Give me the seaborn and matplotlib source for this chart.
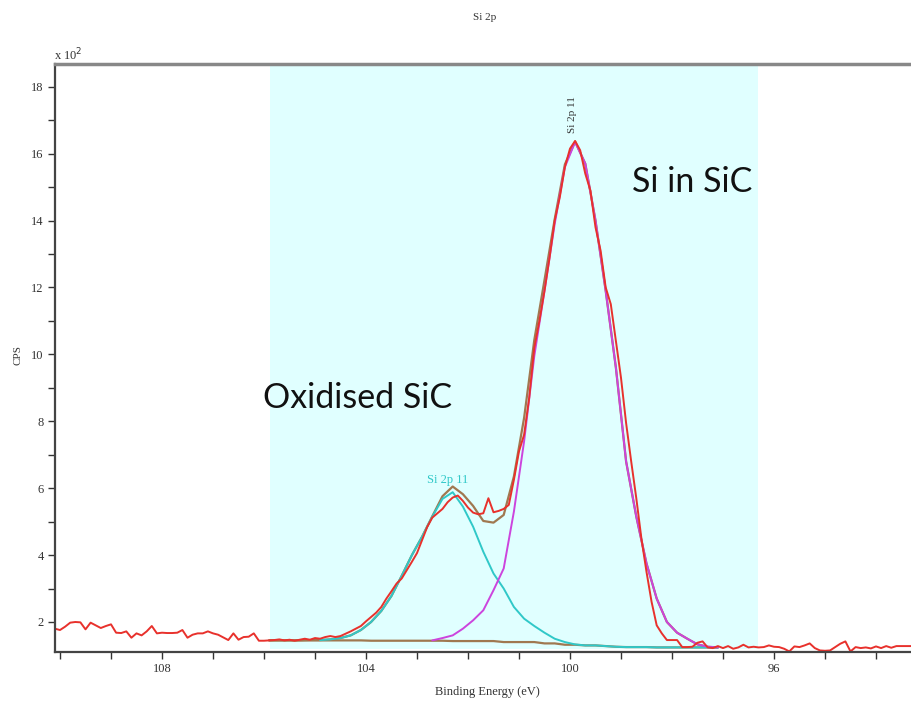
import numpy as np
import pandas as pd
import matplotlib
matplotlib.use("Agg")
import matplotlib.pyplot as plt
import seaborn as sns
from matplotlib.ticker import FixedLocator, MultipleLocator

sns.set_style("white")
plt.rcParams['font.family'] = ['Liberation Serif', 'DejaVu Serif']

# Measured Si 2p spectrum, counts in units of 100 CPS, 0.1 eV steps from 110.1 eV
red_counts = [
    1.80, 1.76, 1.86, 1.98, 2.00, 1.99, 1.78, 1.98, 1.90, 1.82,
    1.88, 1.93, 1.68, 1.67, 1.72, 1.53, 1.66, 1.60, 1.72, 1.88,
    1.66, 1.68, 1.67, 1.67, 1.68, 1.76, 1.53, 1.62, 1.66, 1.66,
    1.72, 1.66, 1.62, 1.54, 1.46, 1.66, 1.47, 1.55, 1.56, 1.66,
    1.44, 1.44, 1.45, 1.46, 1.48, 1.45, 1.47, 1.44, 1.47, 1.50,
    1.47, 1.52, 1.50, 1.55, 1.58, 1.55, 1.58, 1.65, 1.72, 1.80,
    1.88, 2.02, 2.15, 2.28, 2.45, 2.70, 2.92, 3.15, 3.30, 3.55,
    3.80, 4.06, 4.45, 4.84, 5.12, 5.25, 5.38, 5.58, 5.72, 5.78,
    5.62, 5.42, 5.27, 5.22, 5.25, 5.70, 5.28, 5.32, 5.38, 5.50,
    6.25, 7.10, 7.60, 8.70, 10.20, 11.00, 11.90, 12.90, 14.00, 14.70,
    15.60, 16.15, 16.38, 16.10, 15.40, 14.90, 13.80, 13.10, 12.00, 11.50,
    10.40, 9.30, 7.95, 6.80, 5.70, 4.50, 3.50, 2.60, 1.90, 1.66,
    1.46, 1.46, 1.46, 1.25, 1.25, 1.26, 1.38, 1.42, 1.24, 1.22,
    1.28, 1.22, 1.28, 1.20, 1.24, 1.32, 1.24, 1.26, 1.24, 1.25,
    1.30, 1.26, 1.25, 1.20, 1.12, 1.27, 1.25, 1.30, 1.36, 1.22,
    1.15, 1.14, 1.15, 1.25, 1.35, 1.42, 1.12, 1.25, 1.22, 1.24,
    1.21, 1.27, 1.22, 1.28, 1.23, 1.28, 1.28, 1.28, 1.28,
]
red_energy = np.round(110.1 - 0.1 * np.arange(len(red_counts)), 1)

# Fit region, 0.2 eV steps from 105.9 eV to 97.1 eV
fit_energy = np.round(105.9 - 0.2 * np.arange(45), 1)
background = [
    1.45, 1.45, 1.45, 1.45, 1.45, 1.45, 1.45, 1.45, 1.45, 1.45,
    1.44, 1.44, 1.44, 1.44, 1.44, 1.44, 1.44, 1.44, 1.43, 1.43,
    1.43, 1.43, 1.43, 1.40, 1.40, 1.40, 1.40, 1.36, 1.36, 1.32,
    1.32, 1.30, 1.30, 1.28, 1.26, 1.25, 1.25, 1.25, 1.24, 1.24,
    1.24, 1.24, 1.24, 1.24, 1.24,
]
oxide_component = [
    1.45, 1.45, 1.45, 1.45, 1.46, 1.46, 1.48, 1.52, 1.60, 1.76,
    2.00, 2.33, 2.78, 3.38, 4.00, 4.55, 5.15, 5.68, 5.88, 5.45,
    4.85, 4.10, 3.45, 3.00, 2.45, 2.10, 1.88, 1.68, 1.50, 1.40,
    1.33, 1.30, 1.30, 1.28, 1.26, 1.25, 1.25, 1.25, 1.24, 1.24,
    1.24, 1.24, 1.24, 1.24, 1.24,
]
sic_component = [
    1.45, 1.45, 1.45, 1.45, 1.45, 1.45, 1.45, 1.45, 1.45, 1.45,
    1.44, 1.44, 1.44, 1.44, 1.44, 1.44, 1.45, 1.52, 1.60, 1.80,
    2.05, 2.35, 2.95, 3.60, 5.30, 7.40, 9.95, 11.90, 13.90, 15.60,
    16.35, 15.70, 14.00, 11.90, 9.60, 6.80, 5.15, 3.75, 2.70, 2.00,
    1.68, 1.50, 1.33, 1.26, 1.24,
]

fit = pd.DataFrame({
    "energy": fit_energy,
    "background": background,
    "oxide": oxide_component,
    "sic": sic_component,
})
fit["envelope"] = fit["oxide"] + fit["sic"] - fit["background"]
raw = pd.DataFrame({"energy": red_energy, "cps": red_counts})

W, H = 912, 706
fig = plt.figure(figsize=(W / 100, H / 100), dpi=100)
ax = fig.add_axes([55 / W, 1 - 652 / H, 1 - 55 / W, (652 - 64) / H])

# Shaded fitting window
ax.axvspan(105.88, 96.31, ymin=0.005, ymax=1, color='#e0ffff', lw=0, zorder=0)

kw = dict(ax=ax, sort=False, estimator=None, legend=False)
sns.lineplot(data=fit, x="energy", y="background", color='#a07850', lw=1.6, **kw)
sns.lineplot(data=fit, x="energy", y="envelope", color='#a07850', lw=1.6, **kw)
ox = fit[fit["energy"] <= 104.9]
sns.lineplot(data=ox, x="energy", y="oxide", color='#30c8c8', lw=1.4, **kw)
si = fit[fit["energy"] <= 102.7]
sns.lineplot(data=si, x="energy", y="sic", color='#cc44dd', lw=1.4, **kw)
sns.lineplot(data=raw, x="energy", y="cps", color='#e8312c', lw=1.4, **kw)

ax.set_xlim(110.098, 93.294)
ax.set_ylim(1.103, 18.68)
ax.set_xlabel("")
ax.set_ylabel("")

ax.xaxis.set_major_locator(FixedLocator([108, 104, 100, 96]))
ax.xaxis.set_minor_locator(MultipleLocator(1))
ax.yaxis.set_major_locator(FixedLocator([2, 4, 6, 8, 10, 12, 14, 16, 18]))
ax.yaxis.set_minor_locator(MultipleLocator(1))
ax.tick_params(which='both', direction='out', color='#333333', width=1,
               labelsize=9, labelcolor='#333333', bottom=True, left=True)
ax.tick_params(which='major', length=5, pad=3)
ax.tick_params(which='minor', length=5)

for side in ('left', 'bottom'):
    ax.spines[side].set_color('#444444')
    ax.spines[side].set_linewidth(1.6)
ax.spines['top'].set_color('#888888')
ax.spines['top'].set_linewidth(2.5)
ax.spines['right'].set_visible(False)

# Axis texts
fig.text(485 / W, 1 - 18 / H, "Si 2p", ha='center', va='center', fontsize=8, color='#333333')
fig.text(54 / W, 1 - 60 / H, r"x 10$^{2}$", ha='left', va='baseline', fontsize=9, color='#333333')
fig.text(18 / W, 1 - 355 / H, "CPS", ha='center', va='center', rotation=90, fontsize=8, color='#333333')
fig.text(487 / W, 1 - 692 / H, "Binding Energy (eV)", ha='center', va='center', fontsize=9, color='#333333')

# Peak labels
ax.text(102.39, 6.16, "Si 2p 11", color='#30c8c8', ha='center', va='baseline', fontsize=9)
ax.text(99.96, 16.62, "Si 2p 11", color='#333333', ha='center', va='bottom', rotation=90, fontsize=8)

# Region annotations
ax.text(104.17, 8.40, "Oxidised SiC", ha='center', va='baseline', fontsize=24.5,
        family=['Lato', 'DejaVu Sans'], color='#111111')
ax.text(97.61, 14.86, "Si in SiC", ha='center', va='baseline', fontsize=24.5,
        family=['Lato', 'DejaVu Sans'], color='#111111')

fig.savefig("out.png", dpi=100)
